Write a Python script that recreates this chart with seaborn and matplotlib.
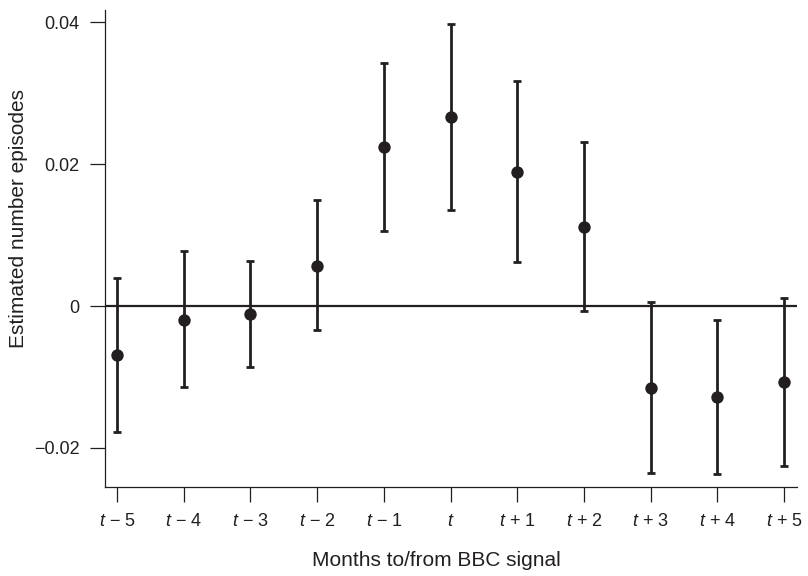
import numpy as np
import pandas as pd
import matplotlib
matplotlib.use("Agg")
import matplotlib.pyplot as plt
import seaborn as sns

# data
months = ["$t$ \u2212 5", "$t$ \u2212 4", "$t$ \u2212 3", "$t$ \u2212 2", "$t$ \u2212 1", "$t$",
          "$t$ + 1", "$t$ + 2", "$t$ + 3", "$t$ + 4", "$t$ + 5"]
estimate = [-0.0069, -0.0019, -0.0011, 0.0057, 0.0224, 0.0267,
            0.0189, 0.0112, -0.0115, -0.0128, -0.0107]
ci_low = [-0.0178, -0.0114, -0.0086, -0.0034, 0.0106, 0.0135,
          0.0062, -0.0007, -0.0235, -0.0237, -0.0225]
ci_high = [0.0040, 0.0077, 0.0064, 0.0149, 0.0342, 0.0397,
           0.0317, 0.0231, 0.0005, -0.0019, 0.0012]

df = pd.DataFrame({"pos": np.arange(len(months)), "month": months,
                   "est": estimate, "lo": ci_low, "hi": ci_high})

sns.set_theme(style="ticks")
plt.rcParams["font.family"] = ["Liberation Sans", "DejaVu Sans"]
plt.rcParams["mathtext.fontset"] = "custom"
plt.rcParams["mathtext.rm"] = "Liberation Sans"
plt.rcParams["mathtext.it"] = "Liberation Sans:italic"

ink = "#231f20"

fig = plt.figure(figsize=(8.08, 5.76), dpi=100)
ax = fig.add_axes([0.13, 0.1545, 0.856, 0.828])

# zero reference line
ax.axhline(0, color=ink, lw=1.6, zorder=1)

ax.errorbar(df["pos"], df["est"],
            yerr=[df["est"] - df["lo"], df["hi"] - df["est"]],
            fmt="none", ecolor=ink, elinewidth=2.0, capsize=3.0,
            capthick=2.0, zorder=2)
sns.scatterplot(data=df, x="pos", y="est", s=80, color=ink,
                edgecolor=ink, linewidth=0, ax=ax, zorder=3)

ax.set_xlim(-0.18, 10.19)
ax.set_ylim(-0.0255, 0.0417)
ax.set_xticks(df["pos"])
ax.set_xticklabels(df["month"])
ax.set_yticks([-0.02, 0, 0.02, 0.04])
ax.set_yticklabels(["\u22120.02", "0", "0.02", "0.04"])

sns.despine(ax=ax)
for s in ["left", "bottom"]:
    ax.spines[s].set_linewidth(0.9)
    ax.spines[s].set_color(ink)
ax.tick_params(axis="both", direction="out", length=10.5, width=0.9,
               color=ink, labelcolor=ink, labelsize=13)
ax.tick_params(axis="x", pad=8)
ax.tick_params(axis="y", pad=8)

ax.set_xlabel("Months to/from BBC signal", fontsize=15, color=ink)
ax.set_ylabel("Estimated number episodes", fontsize=15, color=ink)
ax.xaxis.set_label_coords(0.479, -0.135)
ax.yaxis.set_label_coords(-0.112, 0.562)

fig.savefig("out.png", dpi=100)
